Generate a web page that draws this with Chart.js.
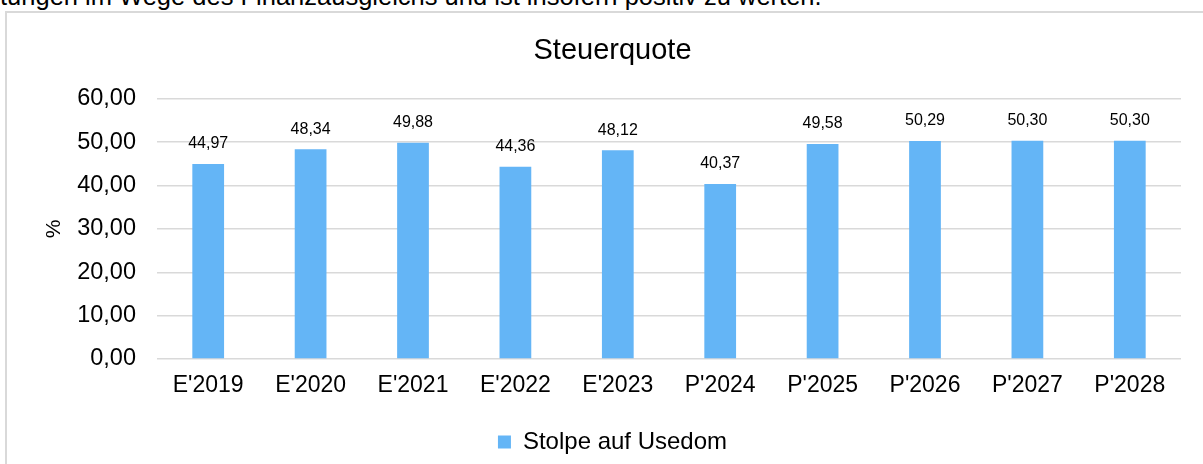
<!DOCTYPE html>
<html>
<head>
<meta charset="utf-8">
<script src="https://cdn.jsdelivr.net/npm/chart.js@4"></script>
<style>
  html, body { margin: 0; padding: 0; background: #fff; overflow: hidden; }
  body { width: 1203px; height: 464px; position: relative; font-family: "Liberation Sans", Arial, sans-serif; }
  #intro { position: absolute; left: 0; top: -18px; font-size: 25.5px; color: #000; white-space: nowrap; }
  #frame { position: absolute; left: 5px; top: 11px; width: 1220px; height: 480px; border: 2px solid #d9d9d9; box-sizing: border-box; }
  #wrap { position: absolute; left: 0; top: 0; width: 1203px; height: 464px; }
</style>
</head>
<body>
<div id="intro">tungen im Wege des Finanzausgleichs und ist insofern positiv zu werten.</div>
<div id="frame"></div>
<div id="wrap"><canvas id="myChart"></canvas></div>
<script>
'use strict';

let categories = ["E'2019", "E'2020", "E'2021", "E'2022", "E'2023", "P'2024", "P'2025", "P'2026", "P'2027", "P'2028"];
let quoteValues = [44.97, 48.34, 49.88, 44.36, 48.12, 40.37, 49.58, 50.29, 50.30, 50.30];
let seriesName = 'Stolpe auf Usedom';
let yTicks = [0, 10, 20, 30, 40, 50, 60];

function fmt(v) {
    return v.toFixed(2).replace('.', ',');
}

// labels above the bars
let barLabels = {
    id: 'barLabels',
    afterDatasetsDraw(chart) {
        let ctx = chart.ctx;
        let meta = chart.getDatasetMeta(0);
        ctx.save();
        ctx.font = '16px "Liberation Sans", Arial, sans-serif';
        ctx.fillStyle = '#000';
        ctx.textAlign = 'center';
        ctx.textBaseline = 'middle';
        meta.data.forEach(function (bar, i) {
            ctx.fillText(fmt(quoteValues[i]), bar.x, bar.y - 20);
        });
        ctx.restore();
    }
};

Chart.defaults.font.family = '"Liberation Sans", Arial, sans-serif';
Chart.defaults.color = '#000';

let ctx = document.getElementById('myChart').getContext('2d');
let myChart = new Chart(ctx, {
    type: 'bar',
    data: {
        labels: categories,
        datasets: [{
            label: seriesName,
            data: quoteValues,
            backgroundColor: '#64b5f6',
            borderWidth: 0,
            barPercentage: 0.62,
            categoryPercentage: 0.5
        }]
    },
    options: {
        responsive: true,
        maintainAspectRatio: false,
        animation: false,
        layout: { padding: { top: 0, right: 0, bottom: 0, left: 22 } },
        plugins: {
            title: {
                display: true,
                text: 'Steuerquote',
                font: { size: 29, weight: 'normal' },
                color: '#000',
                padding: { top: 34, bottom: 30 }
            },
            legend: {
                position: 'bottom',
                labels: {
                    font: { size: 24 },
                    boxWidth: 13,
                    boxHeight: 13,
                    padding: 26,
                    color: '#000'
                }
            },
            tooltip: { enabled: false }
        },
        scales: {
            x: {
                grid: { display: false, drawTicks: false },
                border: { display: false },
                ticks: { font: { size: 23 }, padding: 13, maxRotation: 0, autoSkip: false },
                afterFit: function (scale) {
                    scale.height = 45;
                }
            },
            y: {
                min: 0,
                max: 60,
                afterBuildTicks: function (scale) {
                    scale.ticks = yTicks.map(function (v) { return { value: v }; });
                },
                afterFit: function (scale) {
                    scale.width = 135;
                },
                grid: { color: '#d9d9d9', lineWidth: 1.5, drawTicks: false },
                border: { display: false },
                ticks: {
                    font: { size: 23.5 },
                    padding: 21,
                    callback: function (v) { return fmt(v); }
                },
                title: {
                    display: true,
                    text: '%',
                    font: { size: 21 },
                    padding: { top: 20, bottom: 0 }
                }
            },
            // empty axis that keeps the plot off the right edge
            yRight: {
                position: 'right',
                display: true,
                min: 0,
                max: 60,
                grid: { display: false, drawTicks: false },
                border: { display: false },
                ticks: { display: false },
                afterFit: function (scale) {
                    scale.width = 22;
                }
            }
        }
    },
    plugins: [barLabels]
});
</script>
</body>
</html>
